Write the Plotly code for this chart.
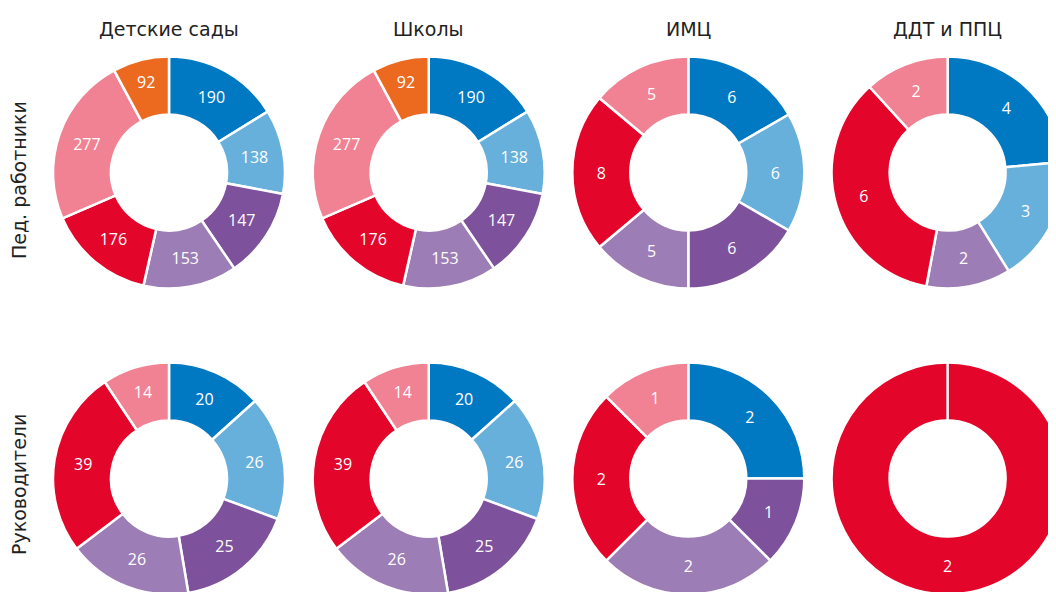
import plotly.graph_objects as go

# ---- data ----
categories = ["Категория 1", "Категория 2", "Категория 3", "Категория 4",
              "Категория 5", "Категория 6", "Категория 7"]
colors = ["#0079C2", "#67B0DC", "#7D519B", "#9D7DB5", "#E4052B", "#F08293", "#EC6A1F"]

col_titles = ["Детские сады", "Школы", "ИМЦ", "ДДТ и ППЦ"]
row_titles = ["Пед. работники", "Руководители"]

ped_sady = [190, 138, 147, 153, 176, 277, 92]
ped_shkoly = [190, 138, 147, 153, 176, 277, 92]
ped_imc = [6, 6, 6, 5, 8, 5, 0]
ped_ddt = [4, 3, 0, 2, 6, 2, 0]

ruk_sady = [20, 26, 25, 26, 39, 14, 0]
ruk_shkoly = [20, 26, 25, 26, 39, 14, 0]
ruk_imc = [2, 0, 1, 2, 2, 1, 0]
ruk_ddt = [0, 0, 0, 0, 2, 0, 0]

grid = [[ped_sady, ped_shkoly, ped_imc, ped_ddt],
        [ruk_sady, ruk_shkoly, ruk_imc, ruk_ddt]]

# ---- layout geometry (pixels, figure coordinates) ----
W, H = 1056, 592
col_cx = [161, 420.7, 680.3, 939.6]
row_cy = [164.5, 470.6]
R = 116
HOLE = 0.5

def clamp(v):
    return max(0.0, min(1.0, v))

fig = go.Figure()
shapes = []
for r, row in enumerate(grid):
    for c, vals in enumerate(row):
        labs = [categories[i] for i, v in enumerate(vals) if v > 0]
        vs = [v for v in vals if v > 0]
        cols = [colors[i] for i, v in enumerate(vals) if v > 0]
        cx, cy = col_cx[c], row_cy[r]
        dx = [clamp((cx - R) / W), clamp((cx + R) / W)]
        dy = [clamp(1 - (cy + R) / H), clamp(1 - (cy - R) / H)]
        fig.add_trace(go.Pie(
            labels=labs, values=vs, sort=False, direction="clockwise", rotation=0,
            hole=HOLE, domain=dict(x=dx, y=dy),
            marker=dict(colors=cols, line=dict(color="white", width=2.5)),
            textinfo="value", textposition="inside", insidetextorientation="horizontal",
            textfont=dict(family="Open Sans", size=16, color="white"),
            showlegend=False, hoverinfo="label+value",
        ))
        if len(vs) == 1:
            # slice boundary at 12 o'clock for a full-circle ring
            shapes.append(dict(type="line", xref="paper", yref="paper",
                               x0=cx / W, x1=cx / W,
                               y0=1 - (cy - R) / H, y1=1 - (cy - R * HOLE) / H,
                               line=dict(color="white", width=2.5)))

annotations = []
for c, t in enumerate(col_titles):
    annotations.append(dict(text=t, x=col_cx[c] / W, y=1 - 21.5 / H, xref="paper", yref="paper",
                            showarrow=False, xanchor="center", yanchor="middle",
                            font=dict(family="DejaVu Sans", size=19, color="#222222")))
row_label_y = [172, 477]
for r, t in enumerate(row_titles):
    annotations.append(dict(text=t, x=11 / W, y=1 - row_label_y[r] / H, xref="paper", yref="paper",
                            showarrow=False, xanchor="center", yanchor="middle", textangle=-90,
                            font=dict(family="DejaVu Sans", size=19, color="#222222")))

fig.update_layout(width=W, height=H, margin=dict(l=0, r=0, t=0, b=0),
                  paper_bgcolor="white", plot_bgcolor="white",
                  uniformtext=dict(minsize=16, mode="show"),
                  annotations=annotations, shapes=shapes)

fig.write_html("out.html")
